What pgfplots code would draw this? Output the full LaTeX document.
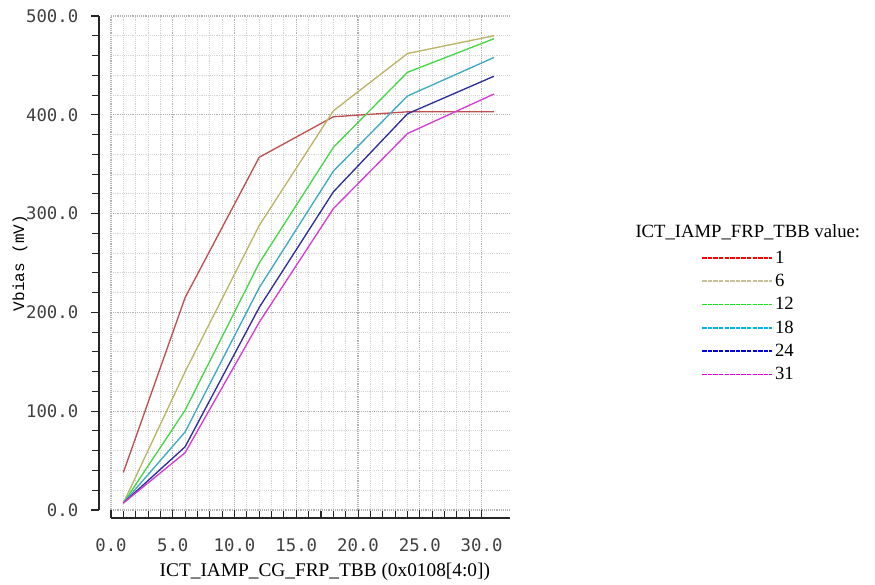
\documentclass[border=0pt]{standalone}
\usepackage{fontspec}
\setmainfont{Liberation Serif}
\newfontfamily\tickfont{DejaVu Sans Mono}
\newfontfamily\labfont{Liberation Mono}
\usepackage{pgfplots}
\pgfplotsset{compat=1.18}

\definecolor{c1}{RGB}{192,80,80}
\definecolor{c6}{RGB}{188,180,100}
\definecolor{c12}{RGB}{70,215,70}
\definecolor{c18}{RGB}{60,170,195}
\definecolor{c24}{RGB}{45,45,155}
\definecolor{c31}{RGB}{215,60,215}
\definecolor{l1}{RGB}{255,0,0}
\definecolor{l6}{RGB}{200,192,155}
\definecolor{l12}{RGB}{20,235,20}
\definecolor{l18}{RGB}{0,180,240}
\definecolor{l24}{RGB}{0,0,230}
\definecolor{l31}{RGB}{240,0,240}

\begin{document}
\begin{tikzpicture}
\useasboundingbox (-83.25pt,-56.25pt) rectangle (573pt,382.5pt);
\begin{axis}[
    name=ax, at={(0,0)}, anchor=south west,
    scale only axis, width=299.25pt, height=370.5pt,
    xmin=0, xmax=32.3, ymin=0, ymax=500,
    axis x line=bottom, axis y line=left, axis line style={-, black!85, line width=0.8pt},
    axis x line shift=6pt, axis y line shift=9pt,
    xtick={0,5,...,30}, ytick={0,100,...,500},
    minor x tick num=4, minor y tick num=4,
    xtick align=inside, ytick align=outside,
    major tick length=6pt, minor tick length=5.5pt,
    tick style={black!85, line width=0.8pt},
    grid=both,
    major grid style={black!30, densely dotted, line width=0.9pt},
    minor grid style={black!16, densely dotted, line width=0.7pt},
    /pgf/number format/.cd, fixed, fixed zerofill, precision=1, assume math mode=true,
    /pgfplots/.cd,
    ticklabel style={font=\tickfont\fontsize{13}{15}\selectfont, text=black!75},
    xticklabel style={yshift=-12pt},
    yticklabel style={xshift=-6pt},
    xlabel={ICT\_IAMP\_CG\_FRP\_TBB (0x0108[4:0])},
    xlabel style={font=\fontsize{14.5}{16}\selectfont, at={(axis description cs:0.536,-0.1255)}, anchor=center},
    ylabel={Vbias (mV)},
    ylabel style={font=\labfont\fontsize{12}{14}\selectfont, at={(axis description cs:-0.228,0.5)}, anchor=center, rotate=0},
    clip=false,
    legend style={draw=none, fill=none, at={(axis description cs:1.469,0.536)}, anchor=north west,
      font=\fontsize{14}{16}\selectfont, row sep=2.7pt},
    legend cell align=left,
    legend image code/.code={\draw[#1, line width=1.3pt, dash pattern=on 3.2pt off 1pt] (0pt,0pt) -- (52pt,0pt);},
    every axis plot/.append style={line width=1pt},
]
\addplot[c1, forget plot] coordinates {(1,38) (6,215) (12,357) (18,398) (24,403) (31,403)};
\addplot[c6, forget plot] coordinates {(1,7) (6,140) (12,288) (18,404) (24,462) (31,480)};
\addplot[c12, forget plot] coordinates {(1,7) (6,101) (12,250) (18,367) (24,443) (31,477)};
\addplot[c18, forget plot] coordinates {(1,7) (6,79) (12,225) (18,343) (24,419) (31,458)};
\addplot[c24, forget plot] coordinates {(1,7) (6,64) (12,205) (18,322) (24,401) (31,439)};
\addplot[c31, forget plot] coordinates {(1,7) (6,58) (12,190) (18,305) (24,381) (31,421)};
\addlegendimage{l1}\addlegendentry{1}
\addlegendimage{l6}\addlegendentry{6}
\addlegendimage{l12}\addlegendentry{12}
\addlegendimage{l18}\addlegendentry{18}
\addlegendimage{l24}\addlegendentry{24}
\addlegendimage{l31}\addlegendentry{31}
\node[font=\fontsize{14}{16}\selectfont, anchor=center] at (axis description cs:1.596,0.563) {ICT\_IAMP\_FRP\_TBB value:};
\end{axis}
\end{tikzpicture}
\end{document}
